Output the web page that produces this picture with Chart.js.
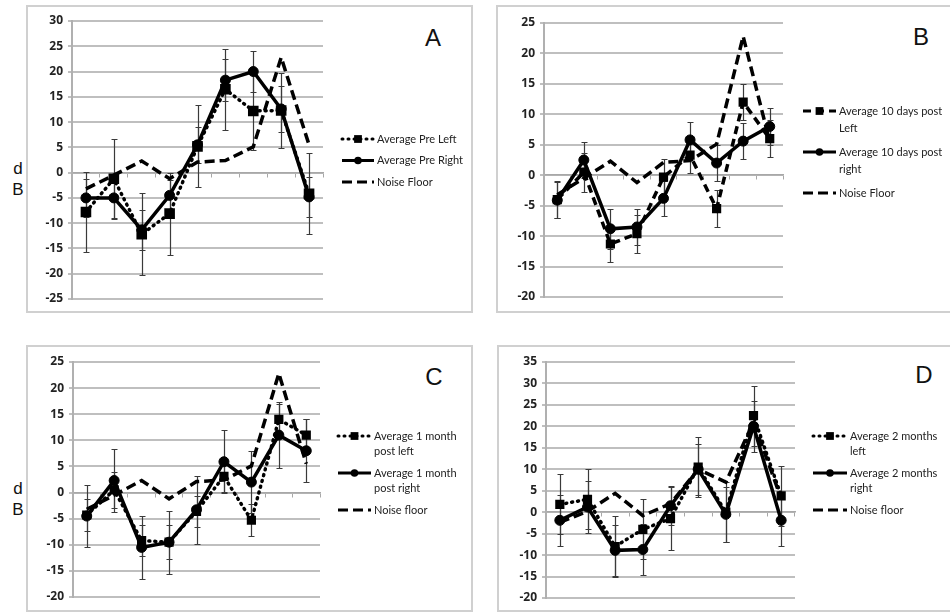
<!DOCTYPE html>
<html>
<head>
<meta charset="utf-8">
<script src="https://cdn.jsdelivr.net/npm/chart.js@4.4.1/dist/chart.umd.min.js"></script>
<style>
html, body { margin: 0; padding: 0; background: #fff; }
body { width: 950px; height: 614px; position: relative; overflow: hidden; font-family: "Liberation Sans", Arial, sans-serif; }
.frame { position: absolute; border: 2px solid #d0d0d0; box-sizing: border-box; pointer-events: none; }
canvas { position: absolute; }
.letter { position: absolute; font-size: 24px; color: #111; transform: translate(-50%, -50%); }
.unit { position: absolute; font-size: 17px; line-height: 21px; color: #111; text-align: center; width: 16px; }
</style>
</head>
<body>

<div class="letter" style="left:433px;top:38px">A</div>
<div class="letter" style="left:921px;top:37px">B</div>
<div class="letter" style="left:434px;top:377px">C</div>
<div class="letter" style="left:924px;top:375px">D</div>
<div class="unit" style="left:10px;top:158px">d<br>B</div>
<div class="unit" style="left:10px;top:478px">d<br>B</div>

<script>
// 9 test points along the x axis (no labels shown in the figure)
const categories = ['1', '2', '3', '4', '5', '6', '7', '8', '9'];

// y axis ranges [min, max], step 5
const yRangeA = [-25, 30];
const yRangeB = [-20, 25];
const yRangeC = [-20, 25];
const yRangeD = [-20, 35];

const noiseFloor = [-3.2, -0.5, 2.3, -1.2, 2.1, 2.4, 5.1, 22.8, 5.5];
const noiseFloorD = [-2.4, 0.2, 4.4, -0.8, 2.0, 10.0, 7.0, 21.0, 3.2];

// A - pre
const preLeft = [-7.8, -1.2, -12.2, -8.1, 5.2, 16.5, 12.2, 12.3, -4.2];
const preLeftErr = [8, 7.8, 8.1, 8.1, 8.1, 8, 7.8, 7.5, 8];
const preRight = [-5.0, -5.0, -11.3, -4.5, 5.5, 18.3, 20.0, 12.6, -4.8];
const preRightErr = [3.7, 4.2, 4.0, 3.0, 3.5, 4.1, 4.0, 4.6, 4.0];

// B - 10 days post
const post10Left = [-4.0, 0.5, -11.3, -9.6, -0.3, 3.3, -5.5, 12.0, 6.0];
const post10LeftErr = [3, 3.2, 3, 3.1, 2.9, 3, 3, 3, 3];
const post10Right = [-4.1, 2.5, -8.8, -8.5, -3.8, 5.8, 2.0, 5.6, 8.0];
const post10RightErr = [3, 2.9, 3.3, 3, 2.9, 2.9, 3, 3, 3];

// C - 1 month post
const post1mLeft = [-4.3, 0.5, -9.2, -9.5, -3.6, 3.1, -5.3, 14.0, 11.0];
const post1mLeftErr = [3, 3.5, 3, 3.2, 3, 3, 3.1, 3, 3];
const post1mRight = [-4.5, 2.3, -10.5, -9.5, -3.3, 5.9, 2.0, 11.0, 8.0];
const post1mRightErr = [6, 6, 6, 6, 6.5, 6, 6, 6.3, 6];

// D - 2 months
const post2mLeft = [1.8, 3.0, -8.0, -4.0, -1.5, 10.5, 0.0, 22.5, 3.8];
const post2mLeftErr = [7, 7, 7, 7, 7.3, 7, 7, 7, 7];
const post2mRight = [-1.9, 1.2, -8.9, -8.7, 1.5, 10.0, -0.5, 20.0, -1.9];
const post2mRightErr = [6, 6, 6, 6, 4.5, 6, 6.4, 6, 6];

const legendA = [['Average Pre Left'], ['Average Pre Right'], ['Noise Floor']];
const legendB = [['Average 10 days post', 'Left'], ['Average 10 days post', 'right'], ['Noise Floor']];
const legendC = [['Average 1 month', 'post left'], ['Average 1 month', 'post right'], ['Noise floor']];
const legendD = [['Average 2 months', 'left'], ['Average 2 months', 'right'], ['Noise floor']];

// error bars drawn under the lines
const errorBars = {
    id: 'errorBars',
    beforeDatasetsDraw(chart) {
        const ctx = chart.ctx;
        const y = chart.scales.y;
        chart.data.datasets.forEach((ds, i) => {
            if (!ds.errors) return;
            const meta = chart.getDatasetMeta(i);
            meta.data.forEach((pt, j) => {
                const v = ds.data[j], e = ds.errors[j];
                const x = Math.round(pt.x) + 0.5;
                const top = Math.round(y.getPixelForValue(v + e)) + 0.5;
                const bot = Math.round(y.getPixelForValue(v - e)) + 0.5;
                ctx.save();
                ctx.strokeStyle = '#3a3a3a';
                ctx.lineWidth = 1.2;
                ctx.beginPath();
                ctx.moveTo(x, top); ctx.lineTo(x, bot);
                ctx.moveTo(x - 3, top); ctx.lineTo(x + 3, top);
                ctx.moveTo(x - 3, bot); ctx.lineTo(x + 3, bot);
                ctx.stroke();
                ctx.restore();
            });
        });
    }
};

// legend at the right of the plot, line sample + marker + wrapped text
const sideLegend = {
    id: 'sideLegend',
    afterDraw(chart, args, opts) {
        if (!opts.labels) return;
        const ctx = chart.ctx;
        let y = opts.y;
        chart.data.datasets.forEach((ds, i) => {
            const lines = opts.labels[i];
            ctx.save();
            ctx.strokeStyle = '#000';
            ctx.lineWidth = 3;
            ctx.lineCap = ds.borderCapStyle || 'butt';
            ctx.setLineDash(ds.borderDash || []);
            ctx.beginPath();
            ctx.moveTo(opts.x, y);
            ctx.lineTo(opts.x + opts.sample, y);
            ctx.stroke();
            ctx.setLineDash([]);
            if (ds.pointRadius > 0) {
                ctx.fillStyle = '#000';
                Chart.helpers.drawPoint(ctx, {
                    pointStyle: ds.pointStyle,
                    radius: ds.pointStyle === 'rect' ? 5.5 : 3.8,
                    borderWidth: 0,
                    rotation: 0
                }, opts.x + opts.sample / 2, y);
            }
            ctx.fillStyle = '#222';
            ctx.font = '11px Lato';
            ctx.textBaseline = 'middle';
            lines.forEach((t, k) => {
                ctx.fillText(t, opts.x + opts.sample + 3, y + k * opts.lineHeight);
            });
            ctx.restore();
            y += (lines.length - 1) * opts.lineHeight + opts.gap;
        });
    }
};

function leftSeries(data, errors, dash, rectRadius) {
    return {
        data: data,
        errors: errors,
        borderColor: '#000',
        backgroundColor: '#000',
        borderWidth: 3.5,
        borderDash: dash,
        borderCapStyle: dash[0] < 2 ? 'round' : 'butt',
        pointStyle: 'rect',
        pointRadius: rectRadius,
        pointBorderWidth: 0,
        tension: 0
    };
}

function rightSeries(data, errors) {
    return {
        data: data,
        errors: errors,
        borderColor: '#000',
        backgroundColor: '#000',
        borderWidth: 3.5,
        pointStyle: 'circle',
        pointRadius: 5,
        pointBorderWidth: 1,
        tension: 0
    };
}

function noiseSeries(data) {
    return {
        data: data,
        borderColor: '#000',
        borderWidth: 3.5,
        borderDash: [10, 5],
        pointRadius: 0,
        tension: 0
    };
}

function makePanel(p) {
    const cv = document.createElement('canvas');
    cv.width = p.box[2];
    cv.height = p.box[3];
    cv.style.left = p.box[0] + 'px';
    cv.style.top = p.box[1] + 'px';
    document.body.appendChild(cv);
    const fr = document.createElement('div');
    fr.className = 'frame';
    fr.style.left = p.box[0] + 'px';
    fr.style.top = p.box[1] + 'px';
    fr.style.width = p.box[2] + 'px';
    fr.style.height = p.box[3] + 'px';
    document.body.appendChild(fr);

    const yWidth = p.area[0] - p.box[0];
    new Chart(cv.getContext('2d'), {
        type: 'line',
        data: { labels: categories, datasets: p.datasets },
        options: {
            responsive: false,
            animation: false,
            events: [],
            layout: {
                padding: {
                    left: 0,
                    top: p.area[1] - p.box[1],
                    right: p.box[0] + p.box[2] - p.area[2],
                    bottom: p.box[1] + p.box[3] - p.area[3]
                }
            },
            scales: {
                x: {
                    type: 'category',
                    offset: true,
                    position: { y: 0 },
                    ticks: { display: false },
                    grid: { offset: true, drawOnChartArea: false, drawTicks: true, tickLength: 4, color: '#a8a8a8', lineWidth: 1 },
                    border: { display: true, color: '#a8a8a8', width: 1.5 }
                },
                y: {
                    min: p.yRange[0],
                    max: p.yRange[1],
                    afterFit: (s) => { s.width = yWidth; },
                    ticks: { stepSize: 5, color: '#222', padding: 5, font: { family: 'Open Sans', size: 12, weight: 'bold' } },
                    grid: { color: '#bfbfbf', lineWidth: 2, tickLength: 4 },
                    border: { display: true, color: '#b0b0b0', width: 2 }
                }
            },
            plugins: {
                legend: { display: false },
                tooltip: { enabled: false },
                sideLegend: p.legend
            }
        },
        plugins: [errorBars, sideLegend]
    });
}

makePanel({
    box: [26, 5, 447, 308],
    area: [72, 21, 323, 299],
    yRange: yRangeA,
    datasets: [leftSeries(preLeft, preLeftErr, [1, 5], 7.5), rightSeries(preRight, preRightErr), noiseSeries(noiseFloor)],
    legend: { x: 316, y: 134, sample: 32, lineHeight: 17, gap: 21.5, labels: legendA }
});

makePanel({
    box: [496, 5, 460, 308],
    area: [544, 23, 783, 297],
    yRange: yRangeB,
    datasets: [leftSeries(post10Left, post10LeftErr, [8, 5], 6.5), rightSeries(post10Right, post10RightErr), noiseSeries(noiseFloor)],
    legend: { x: 307, y: 106, sample: 33, lineHeight: 17, gap: 24, labels: legendB }
});

makePanel({
    box: [26, 345, 447, 267],
    area: [73, 362, 320, 597],
    yRange: yRangeC,
    datasets: [leftSeries(post1mLeft, post1mLeftErr, [1, 5], 6.5), rightSeries(post1mRight, post1mRightErr), noiseSeries(noiseFloor)],
    legend: { x: 312, y: 91, sample: 33, lineHeight: 15, gap: 22, labels: legendC }
});

makePanel({
    box: [497, 345, 460, 267],
    area: [546, 362, 795, 598],
    yRange: yRangeD,
    datasets: [leftSeries(post2mLeft, post2mLeftErr, [1, 5], 6.5), rightSeries(post2mRight, post2mRightErr), noiseSeries(noiseFloorD)],
    legend: { x: 316, y: 91, sample: 34, lineHeight: 15, gap: 22, labels: legendD }
});
</script>
</body>
</html>
